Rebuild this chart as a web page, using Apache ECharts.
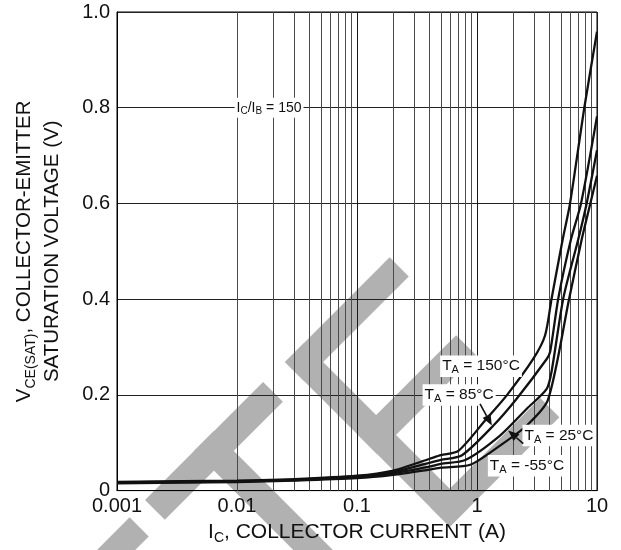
<!DOCTYPE html>
<html><head><meta charset="utf-8">
<script src="https://cdn.jsdelivr.net/npm/echarts@6/dist/echarts.min.js"></script>
<style>html,body{margin:0;padding:0;background:#fff}#c{width:621px;height:550px}</style>
</head><body><div id="c"></div>
<script>
// ---- data ----
const xMinorGrid = [0.002,0.003,0.004,0.005,0.006,0.007,0.008,0.009,
                    0.02,0.03,0.04,0.05,0.06,0.07,0.08,0.09,
                    0.2,0.3,0.4,0.5,0.6,0.7,0.8,0.9,
                    2,3,4,5,6,7,8,9];
const yTicks = [0, 0.2, 0.4, 0.6, 0.8, 1.0];

const ic150  = [0.001,0.01,0.03,0.1,0.2,0.4,0.5,0.7,1.2,1.77,2.94,3.69,4.19,5.18,5.96,7.84,10];
const vce150 = [0.018,0.021,0.024,0.031,0.042,0.066,0.074,0.083,0.15,0.199,0.275,0.324,0.402,0.525,0.60,0.80,0.959];

const ic85   = [0.001,0.01,0.03,0.1,0.2,0.4,0.5,0.75,1.37,2.14,3.81,4.07,4.76,6.07,7.36,10];
const vce85  = [0.017,0.020,0.023,0.029,0.039,0.058,0.064,0.074,0.136,0.192,0.275,0.29,0.402,0.525,0.60,0.782];

const ic25   = [0.001,0.01,0.03,0.1,0.2,0.4,0.5,0.8,1.555,2.6,3.81,4.19,5.24,6.98,8.2,10];
const vce25  = [0.016,0.019,0.022,0.028,0.036,0.050,0.056,0.064,0.115,0.171,0.2125,0.25,0.402,0.525,0.60,0.711];

const icM55  = [0.001,0.01,0.03,0.1,0.2,0.4,0.5,0.88,1.555,2.6,3.91,5.87,7.46,8.8,10];
const vceM55 = [0.015,0.018,0.021,0.026,0.033,0.044,0.048,0.054,0.094,0.136,0.19,0.402,0.525,0.60,0.658];

// annotation anchors (data coordinates)
const labelAnchors = {
  ratio: [0.0185, 0.80],
  t150:  [1.08, 0.26],
  t85:   [0.71, 0.20],
  t25:   [4.82, 0.115],
  tm55:  [2.61, 0.052]
};
const arrow85 = {from:[1.06, 0.181], to:[1.33, 0.136]};
const arrow25 = {from:[2.43, 0.098], to:[1.82, 0.1256]};

const FONT = "'Liberation Sans', Arial, Helvetica, sans-serif";
const INK = '#111';

function pairs(xs, ys){ return xs.map((x,i)=>[x, ys[i]]); }
function curve(name, xs, ys){
  return {name, type:'line', data:pairs(xs,ys), smooth:0.25,
    symbol:'none', lineStyle:{color:INK, width:2.3}, z:5, silent:true};
}

const chart = echarts.init(document.getElementById('c'), null, {renderer:'canvas'});
chart.setOption({
  animation:false,
  backgroundColor:'#fff',
  grid:{left:117, right:24, top:12, bottom:58, show:true, borderColor:'#000', borderWidth:1},
  xAxis:{
    type:'log', logBase:10, min:0.001, max:10,
    axisLine:{show:true, lineStyle:{color:'#000', width:1}},
    axisTick:{show:false},
    splitLine:{show:true, lineStyle:{color:'#1a1a1a', width:1}},
    axisLabel:{fontSize:20, color:INK, fontFamily:FONT, margin:6,
      formatter:v=>String(Number(Number(v).toPrecision(1)))},
    name:'{n|I}{s|C}{n|, COLLECTOR CURRENT (A)}',
    nameLocation:'middle', nameGap:27,
    nameTextStyle:{color:INK, fontFamily:FONT, rich:{
      n:{fontSize:21, lineHeight:26, fontFamily:FONT, color:INK},
      s:{fontSize:14, lineHeight:17, verticalAlign:'bottom', fontFamily:FONT, color:INK}}}
  },
  yAxis:{
    type:'value', min:0, max:1, interval:0.2,
    axisLine:{show:true, lineStyle:{color:'#000', width:1}},
    axisTick:{show:false},
    splitLine:{show:true, lineStyle:{color:'#222', width:1}},
    axisLabel:{fontSize:20, color:INK, fontFamily:FONT, margin:7,
      formatter:v=>{const t=yTicks.find(k=>Math.abs(k-v)<1e-9); return t===0?'0':(t!==undefined?t.toFixed(1):'');}},
    name:'{n|V}{s|CE(SAT)}{n|, COLLECTOR-EMITTER}\n{n|SATURATION VOLTAGE (V)}',
    nameLocation:'middle', nameRotate:90, nameGap:51,
    nameTextStyle:{color:INK, fontFamily:FONT, align:'center', rich:{
      n:{fontSize:20.5, lineHeight:28, fontFamily:FONT, color:INK},
      s:{fontSize:14, lineHeight:18, verticalAlign:'bottom', fontFamily:FONT, color:INK}}}
  },
  series:[
    {name:'minor', type:'line', data:[[0.001,0]], symbol:'none', lineStyle:{opacity:0}, silent:true, z:1,
      markLine:{silent:true, symbol:['none','none'], label:{show:false},
        lineStyle:{color:'#4a4a4a', width:1, type:'solid'},
        data:xMinorGrid.map(v=>({xAxis:v}))}},
    curve('TA = 150°C', ic150, vce150),
    curve('TA = 85°C', ic85, vce85),
    curve('TA = 25°C', ic25, vce25),
    curve('TA = -55°C', icM55, vceM55)
  ]
});

// ---- decorations: watermark (page pixels) + annotations (from data coords) ----
const WM = '#b1b1b1';
function frame(ox, oy){ const c=Math.SQRT1_2; return (u,v)=>[ox + c*(u+v), oy + c*(v-u)]; }
function rect(F,u0,v0,u1,v1){ return [F(u0,v0),F(u1,v0),F(u1,v1),F(u0,v1)]; }
const FE = frame(285, 362);   // letter E
const FT = frame(145, 500);   // letter T
const FE0 = frame(25, 622);   // previous letter E (mostly off page)
const wmPolys = [
  rect(FE,0,0,27,233), rect(FE,0,0,148,27), rect(FE,0,102,140,130), rect(FE,0,206,155,233),
  rect(FT,0,0,167,28), rect(FT,69.5,0,97.5,220),
  rect(FE0,0,0,148,27)
];
const graphics = wmPolys.map(p=>({type:'polygon', shape:{points:p}, style:{fill:WM}, z:-10, silent:true}));

const px = d => chart.convertToPixel({gridIndex:0}, d);
function label(anchor, text, fs){
  const p = px(anchor);
  return {type:'text', x:p[0], y:p[1], z:100, silent:true, style:{
    text, align:'center', verticalAlign:'middle', backgroundColor:'#fff', padding:[1,2,1,2],
    fill:INK, font: fs+'px '+FONT,
    rich:{n:{fontSize:fs, lineHeight:fs+4, fontFamily:FONT, fill:INK, color:INK},
          s:{fontSize:Math.round(fs*0.72), lineHeight:fs-2, verticalAlign:'bottom', fontFamily:FONT, fill:INK, color:INK}}}};
}
graphics.push(label(labelAnchors.ratio, '{n|I}{s|C}{n|/I}{s|B}{n| = 150}', 14));
graphics.push(label(labelAnchors.t150, '{n|T}{s|A}{n| = 150°C}', 15.5));
graphics.push(label(labelAnchors.t85, '{n|T}{s|A}{n| = 85°C}', 15.5));
graphics.push(label(labelAnchors.t25, '{n|T}{s|A}{n| = 25°C}', 15.5));
graphics.push(label(labelAnchors.tm55, '{n|T}{s|A}{n| = -55°C}', 15.5));

function arrow(a){
  const p0 = px(a.from), p1 = px(a.to);
  const dx=p1[0]-p0[0], dy=p1[1]-p0[1], L=Math.hypot(dx,dy), ux=dx/L, uy=dy/L;
  const hl=11, hw=4.5;
  const bx=p1[0]-ux*hl, by=p1[1]-uy*hl;
  return [
    {type:'line', z:101, silent:true, shape:{x1:p0[0],y1:p0[1],x2:bx,y2:by}, style:{stroke:INK, lineWidth:1.6}},
    {type:'polygon', z:101, silent:true, shape:{points:[[p1[0],p1[1]],[bx-uy*hw,by+ux*hw],[bx+uy*hw,by-ux*hw]]}, style:{fill:INK}}
  ];
}
graphics.push(...arrow(arrow85), ...arrow(arrow25));
chart.setOption({graphic:{elements:graphics}});
</script></body></html>
